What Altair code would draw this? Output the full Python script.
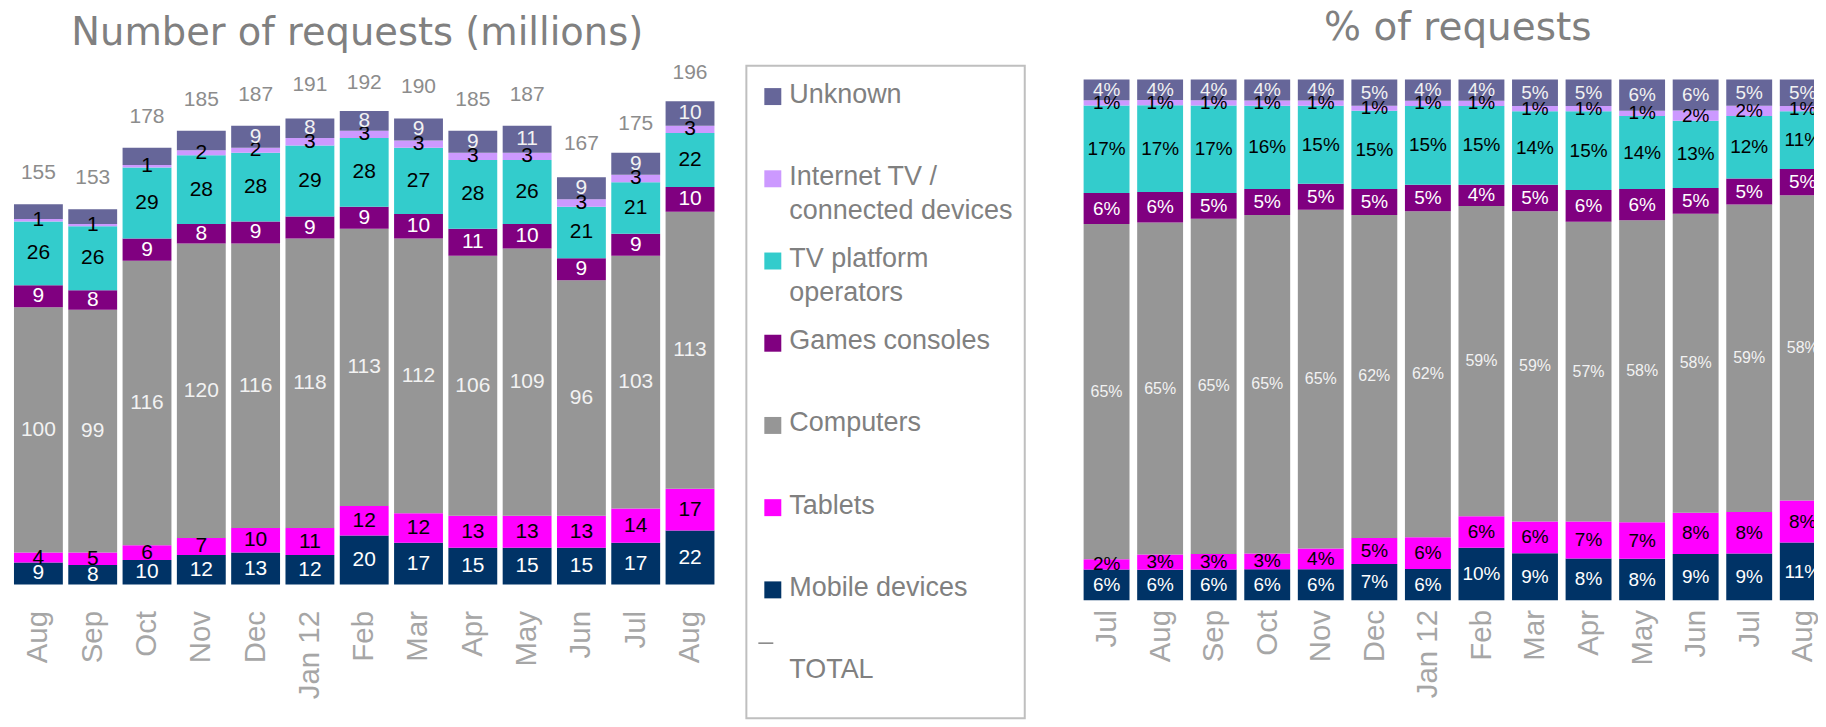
import json
import altair as alt
import pandas as pd

# ---------------- data ----------------
left_months = ["Aug", "Sep", "Oct", "Nov", "Dec", "Jan 12", "Feb", "Mar", "Apr", "May", "Jun", "Jul", "Aug"]
right_months = ["Jul", "Aug", "Sep", "Oct", "Nov", "Dec", "Jan 12", "Feb", "Mar", "Apr", "May", "Jun", "Jul", "Aug"]

categories = ["Mobile devices", "Tablets", "Computers", "Games consoles",
              "TV platform operators", "Internet TV / connected devices", "Unknown"]
colors = ["#003366", "#ff00ff", "#969696", "#800080", "#33cccc", "#cc99ff", "#666699"]
label_colors = ["#ffffff", "#000000", "#f2f2f2", "#ffffff", "#000000", "#000000", "#f2f2f2"]
legend_labels = ["Unknown", "Internet TV /\nconnected devices", "TV platform\noperators",
                 "Games consoles", "Computers", "Tablets", "Mobile devices", "TOTAL"]
legend_cats = ["Unknown", "Internet TV / connected devices", "TV platform operators",
               "Games consoles", "Computers", "Tablets", "Mobile devices", "TOTAL"]

# Number of requests (millions)
mobile_m = [9, 8, 10, 12, 13, 12, 20, 17, 15, 15, 15, 17, 22]
tablets_m = [4, 5, 6, 7, 10, 11, 12, 12, 13, 13, 13, 14, 17]
computers_m = [100, 99, 116, 120, 116, 118, 113, 112, 106, 109, 96, 103, 113]
games_m = [9, 8, 9, 8, 9, 9, 9, 10, 11, 10, 9, 9, 10]
tvplat_m = [26, 26, 29, 28, 28, 29, 28, 27, 28, 26, 21, 21, 22]
inettv_m = [1, 1, 1, 2, 2, 3, 3, 3, 3, 3, 3, 3, 3]
unknown_m = [6, 6, 7, 8, 9, 8, 8, 9, 9, 11, 9, 9, 10]
unknown_m_labelled = [False, False, False, False, True, True, True, True, True, True, True, True, True]
totals_m = [155, 153, 178, 185, 187, 191, 192, 190, 185, 187, 167, 175, 196]

# % of requests
mobile_p = [6, 6, 6, 6, 6, 7, 6, 10, 9, 8, 8, 9, 9, 11]
tablets_p = [2, 3, 3, 3, 4, 5, 6, 6, 6, 7, 7, 8, 8, 8]
computers_p = [65, 65, 65, 65, 65, 62, 62, 59, 59, 57, 58, 58, 59, 58]
games_p = [6, 6, 5, 5, 5, 5, 5, 4, 5, 6, 6, 5, 5, 5]
tvplat_p = [17, 17, 17, 16, 15, 15, 15, 15, 14, 15, 14, 13, 12, 11]
inettv_p = [1, 1, 1, 1, 1, 1, 1, 1, 1, 1, 1, 2, 2, 1]
unknown_p = [4, 4, 4, 4, 4, 5, 4, 4, 5, 5, 6, 6, 5, 5]

series_m = [mobile_m, tablets_m, computers_m, games_m, tvplat_m, inettv_m, unknown_m]
series_p = [mobile_p, tablets_p, computers_p, games_p, tvplat_p, inettv_p, unknown_p]


def long_df(series, n, labeller):
    rows = []
    for i in range(n):
        for k, cat in enumerate(categories):
            v = series[k][i]
            rows.append({"idx": i, "cat": cat, "order": k, "value": v, "label": labeller(k, i, v)})
    return pd.DataFrame(rows)


df_m = long_df(series_m, len(left_months),
               lambda k, i, v: "" if (categories[k] == "Unknown" and not unknown_m_labelled[i]) else str(v))
df_p = long_df(series_p, len(right_months), lambda k, i, v: f"{v}%")
df_tot = pd.DataFrame({"idx": list(range(len(left_months))), "total": totals_m})
df_leg = pd.DataFrame({"pos": list(range(len(legend_labels))), "text": legend_labels, "cat": legend_cats})

# ---------------- style ----------------
FONT = "Liberation Sans"
TITLE_FONT = "DejaVu Sans"
GRAY_TXT = "#808080"
AXIS_TXT = "#a6a6a6"

color_scale = alt.Scale(domain=categories, range=colors)
lab_color_expr = json.dumps(dict(zip(categories, label_colors))) + "[datum.cat]"


def axis_for(months, pad, **kw):
    return alt.Axis(labelExpr=json.dumps(months) + "[datum.value]", labelAngle=-90,
                    labelFont=FONT, labelFontSize=29.5, labelColor=AXIS_TXT,
                    labelPadding=pad, ticks=False, tickSize=0, domain=False,
                    grid=False, labelOverlap=False, **kw)


# ---------------- left chart ----------------
left_x = alt.X("idx:O", title=None, scale=alt.Scale(paddingInner=0.1, paddingOuter=0.11),
               axis=axis_for(left_months, 26))
left_y_scale = alt.Scale(domain=[0, 211.5], nice=False, zero=True)

left_base = alt.Chart(df_m).transform_stack(
    stack="value", groupby=["idx"], sort=[alt.SortField("order", order="ascending")], as_=["v0", "v1"])

left_bars = left_base.mark_bar().encode(
    x=left_x,
    y=alt.Y("v0:Q", scale=left_y_scale, axis=None),
    y2="v1:Q",
    color=alt.Color("cat:N", scale=color_scale, legend=None))

left_labels = left_base.transform_calculate(
    mid="(datum.v0 + datum.v1) / 2", lcolor=lab_color_expr
).mark_text(font=FONT, fontSize=21, baseline="middle").encode(
    x=left_x,
    y=alt.Y("mid:Q", scale=left_y_scale, axis=None, stack=None),
    text="label:N",
    color=alt.Color("lcolor:N", scale=None))

left_totals = alt.Chart(df_tot).mark_text(font=FONT, fontSize=21, color="#8c8c8c", dy=-31,
                                          baseline="middle").encode(
    x=left_x,
    y=alt.Y("total:Q", scale=left_y_scale, axis=None),
    text="total:Q")

left = alt.layer(left_bars, left_labels, left_totals).properties(
    width=714, height=520,
    title=alt.TitleParams("Number of requests (millions)", font=TITLE_FONT, fontSize=38.5,
                          fontWeight="normal", color=GRAY_TXT, anchor="middle", frame="group",
                          baseline="alphabetic", offset=-22, dx=-7))

# ---------------- legend panel ----------------
leg_y = alt.Y("pos:Q", scale=alt.Scale(domain=[-0.376, 7.561], reverse=True, nice=False, zero=False), axis=None)

leg_sw = alt.Chart(df_leg).transform_filter("datum.pos < 7").mark_square(
    size=289, filled=True, opacity=1).encode(
    x=alt.value(26.5), y=leg_y, color=alt.Color("cat:N", scale=color_scale, legend=None))

leg_txt = alt.Chart(df_leg).mark_text(
    font=FONT, fontSize=27, color=GRAY_TXT, align="left", baseline="top", dy=-15,
    lineBreak="\n", lineHeight=34).encode(x=alt.value(43), y=leg_y, text="text:N")

leg_dash = alt.Chart(df_leg).transform_filter("datum.pos == 7").mark_rule(
    color=GRAY_TXT, strokeWidth=1.5, yOffset=-29).encode(
    x=alt.value(12), x2=alt.value(27), y=leg_y)

legend = alt.layer(leg_sw, leg_txt, leg_dash).properties(
    width=279, height=654,
    view=alt.ViewBackground(stroke="#bfbfbf", strokeWidth=2))

# ---------------- right chart ----------------
right_x = alt.X("idx:Q", title=None,
                scale=alt.Scale(domain=[-0.652, 13.21], nice=False, zero=False, padding=0),
                axis=axis_for(right_months, 9, values=list(range(len(right_months))), labelFlush=False))
right_y_scale = alt.Scale(domain=[0, 1.0268], nice=False, zero=True)

right_base = alt.Chart(df_p).transform_stack(
    stack="value", groupby=["idx"], sort=[alt.SortField("order", order="ascending")],
    as_=["v0", "v1"], offset="normalize")

right_bars = right_base.mark_bar(clip=True, width=46).encode(
    x=right_x,
    y=alt.Y("v0:Q", scale=right_y_scale, axis=None),
    y2="v1:Q",
    color=alt.Color("cat:N", scale=color_scale, legend=None))

right_lab_base = right_base.transform_calculate(mid="(datum.v0 + datum.v1) / 2", lcolor=lab_color_expr)

right_labels = right_lab_base.transform_filter("datum.cat != 'Computers'").mark_text(
    font=FONT, fontSize=19, baseline="middle", clip=True).encode(
    x=right_x,
    y=alt.Y("mid:Q", scale=right_y_scale, axis=None, stack=None),
    text="label:N",
    color=alt.Color("lcolor:N", scale=None))

right_labels_c = right_lab_base.transform_filter("datum.cat == 'Computers'").mark_text(
    font=FONT, fontSize=16, baseline="middle", clip=True).encode(
    x=right_x,
    y=alt.Y("mid:Q", scale=right_y_scale, axis=None, stack=None),
    text="label:N",
    color=alt.Color("lcolor:N", scale=None))

right = alt.layer(right_bars, right_labels, right_labels_c).properties(
    width=744, height=536,
    title=alt.TitleParams("% of requests", font=TITLE_FONT, fontSize=39,
                          fontWeight="normal", color=GRAY_TXT, anchor="middle", frame="group",
                          baseline="alphabetic", offset=-13, dx=15))

inner = alt.hconcat(left, legend, spacing=25)
chart = alt.hconcat(inner, right, spacing=46).properties(
    padding={"left": 0, "top": 0, "right": 0, "bottom": 0}
).configure_view(stroke=None)

chart.save("out.html", embed_options={"renderer": "svg", "actions": False})
